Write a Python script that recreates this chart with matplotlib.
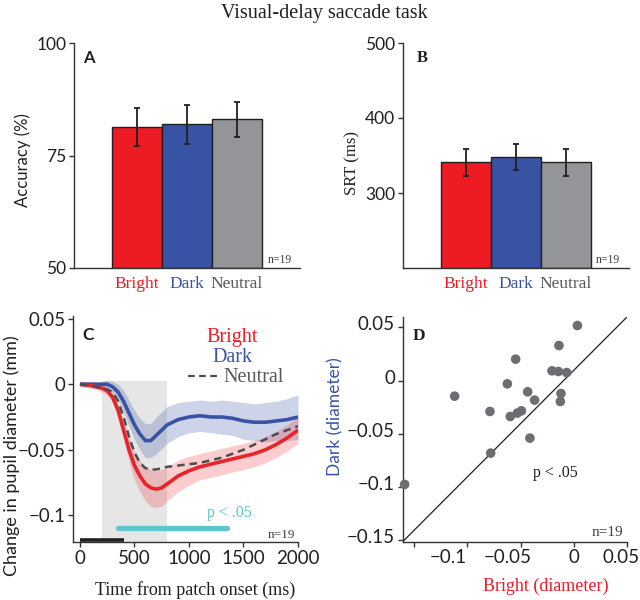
import matplotlib
matplotlib.use('Agg')
import matplotlib.pyplot as plt
from matplotlib.transforms import ScaledTranslation

# ---------------- data ----------------
conditions = ['Bright', 'Dark', 'Neutral']
accuracy = [81.3, 81.9, 83.1]
accuracy_err = [4.2, 4.4, 3.9]
srt = [341, 348, 341]
srt_err = [18, 17.5, 18]

time_ms = [0, 100, 200, 250, 300, 350, 400, 450, 500, 550, 600, 650, 700, 750,
           800, 900, 1000, 1100, 1200, 1300, 1400, 1500, 1600, 1700, 1800, 1900, 2000]
bright_mean = [0, -0.001, -0.003, -0.005, -0.010, -0.020, -0.035, -0.050, -0.062,
               -0.070, -0.076, -0.079, -0.080, -0.079, -0.076, -0.070, -0.066, -0.063,
               -0.061, -0.059, -0.057, -0.055, -0.053, -0.050, -0.046, -0.041, -0.035]
bright_sem = [0.002, 0.002, 0.003, 0.003, 0.004, 0.005, 0.007, 0.009, 0.011, 0.012,
              0.013, 0.014, 0.014, 0.014, 0.013, 0.012, 0.011, 0.010, 0.010, 0.010,
              0.010, 0.010, 0.010, 0.010, 0.010, 0.010, 0.010]
dark_mean = [0, 0, 0, 0, -0.002, -0.006, -0.013, -0.022, -0.031, -0.038, -0.043,
             -0.043, -0.039, -0.035, -0.031, -0.027, -0.025, -0.024, -0.025, -0.025,
             -0.026, -0.028, -0.029, -0.029, -0.028, -0.027, -0.025]
dark_sem = [0.002, 0.002, 0.002, 0.003, 0.004, 0.006, 0.008, 0.010, 0.011, 0.012,
            0.013, 0.013, 0.014, 0.014, 0.014, 0.013, 0.012, 0.012, 0.012, 0.013,
            0.013, 0.014, 0.014, 0.015, 0.015, 0.016, 0.017]
neutral_mean = [0, -0.001, -0.003, -0.004, -0.006, -0.013, -0.025, -0.040, -0.052,
                -0.060, -0.064, -0.065, -0.065, -0.064, -0.063, -0.062, -0.061, -0.060,
                -0.058, -0.056, -0.053, -0.050, -0.046, -0.042, -0.038, -0.035, -0.032]
patch_window = [200, 800]
patch_top = 0.0025
signif_window = [345, 1345]
signif_level = -0.110
stim_window = [0, 400]
stim_level = -0.1184

bright_diam = [0.0032, -0.0141, -0.0547, -0.0206, -0.0146, -0.0068, -0.0625, -0.1119,
               -0.0434, -0.0369, -0.0122, -0.0128, -0.0788, -0.0597, -0.0531, -0.0493,
               -0.0413, -0.0781, -0.1588]
dark_diam = [0.0517, 0.0329, 0.0201, 0.0091, 0.0085, 0.0075, -0.0031, -0.0147,
             -0.0106, -0.0184, -0.0122, -0.0197, -0.0291, -0.0338, -0.0306, -0.0285,
             -0.0541, -0.0682, -0.0977]

acc_ticks = [50, 75, 100]
srt_ticks = [300, 400, 500]
c_xticks = [0, 500, 1000, 1500, 2000]
c_yticks = [-0.1, -0.05, 0, 0.05]
c_yticklabels = ['\u22120.1', '\u22120.05', '0', '0.05']
d_xticks = [-0.15, -0.1, -0.05, 0, 0.05]
d_xticklabels = ['', '\u22120.1', '\u22120.05', '0', '0.05']
d_yticks = [-0.15, -0.1, -0.05, 0, 0.05]
d_yticklabels = ['\u22120.15', '\u22120.1', '\u22120.05', '0', '0.05']

# ---------------- style ----------------
RED = '#ED1C24'
BLUE = '#3953A4'
GRAY_BAR = '#939598'
GRAY_TXT = '#58595B'
DARKTXT = '#231F20'
CYAN = '#5BC6D0'
SANS = ['Lato', 'DejaVu Sans']
SERIF = ['Liberation Serif', 'DejaVu Serif']
bar_colors = [RED, BLUE, GRAY_BAR]
label_colors = [RED, BLUE, GRAY_TXT]

fig = plt.figure(figsize=(6.4, 6.0), dpi=100)

def style_axes(ax, tick_size):
    for s in ['top', 'right']:
        ax.spines[s].set_visible(False)
    for s in ['left', 'bottom']:
        ax.spines[s].set_color('#333333')
        ax.spines[s].set_linewidth(1.0)
    ax.tick_params(direction='out', length=3.5, width=1.0, color='#333333',
                   labelsize=tick_size, labelcolor=DARKTXT, pad=2)
    for lab in ax.get_xticklabels() + ax.get_yticklabels():
        lab.set_family(SANS)

# ---------- Panel A ----------
axA = fig.add_axes([74/640, 1-268/600, 226/640, 225/600])
xpos = [1, 2, 3]
axA.bar(xpos, [a - 50 for a in accuracy], bottom=50, width=1.0, color=bar_colors,
        edgecolor='#231F20', linewidth=1.0, zorder=2)
axA.errorbar(xpos, accuracy, yerr=accuracy_err, fmt='none', ecolor='#231F20',
             elinewidth=1.3, capsize=2.5, capthick=1.3, zorder=3)
axA.set_xlim(-0.26, 4.26)
axA.set_ylim(50, 100)
axA.set_yticks(acc_ticks)
axA.set_xticks(xpos)
axA.set_xticklabels(conditions)
style_axes(axA, 12.5)
axA.tick_params(axis='x', length=0, pad=6)
for lab, c in zip(axA.get_xticklabels(), label_colors):
    lab.set_color(c); lab.set_family(SERIF); lab.set_fontsize(12.5)
axA.set_ylabel('Accuracy (%)', fontsize=12, family=SANS, color=DARKTXT, va='center')
axA.yaxis.set_label_coords(-0.226, 0.48)
axA.text(0.04, 0.935, 'A', transform=axA.transAxes, fontsize=12, fontweight='bold',
         family=SANS, color=DARKTXT, va='center', ha='left')
axA.text(0.965, 0.036, 'n=19', transform=axA.transAxes, fontsize=8.5, family=SERIF,
         color='#414042', va='center', ha='right')

# ---------- Panel B ----------
axB = fig.add_axes([403/640, 1-268/600, 226/640, 225/600])
axB.bar(xpos, [s - 200 for s in srt], bottom=200, width=1.0, color=bar_colors,
        edgecolor='#231F20', linewidth=1.0, zorder=2)
axB.errorbar(xpos, srt, yerr=srt_err, fmt='none', ecolor='#231F20',
             elinewidth=1.3, capsize=2.5, capthick=1.3, zorder=3)
axB.set_xlim(-0.26, 4.26)
axB.set_ylim(200, 500)
axB.set_yticks(srt_ticks)
axB.set_xticks(xpos)
axB.set_xticklabels(conditions)
style_axes(axB, 12.5)
axB.tick_params(axis='x', length=0, pad=6)
for lab, c in zip(axB.get_xticklabels(), label_colors):
    lab.set_color(c); lab.set_family(SERIF); lab.set_fontsize(12.5)
axB.set_ylabel('SRT (ms)', fontsize=12, family=SERIF, color=DARKTXT, va='center')
axB.yaxis.set_label_coords(-0.226, 0.467)
axB.text(0.062, 0.935, 'B', transform=axB.transAxes, fontsize=12, fontweight='bold',
         family=SERIF, color=DARKTXT, va='center', ha='left')
axB.text(0.96, 0.036, 'n=19', transform=axB.transAxes, fontsize=8.5, family=SERIF,
         color='#414042', va='center', ha='right')

# ---------- Panel C ----------
axC = fig.add_axes([73.3/640, 1-542/600, 224.7/640, 226/600])
axC.fill_between(patch_window, [-1, -1], [patch_top, patch_top], color='#E6E6E6',
                 linewidth=0, zorder=0)
lo_b = [m - e for m, e in zip(bright_mean, bright_sem)]
hi_b = [m + e for m, e in zip(bright_mean, bright_sem)]
lo_d = [m - e for m, e in zip(dark_mean, dark_sem)]
hi_d = [m + e for m, e in zip(dark_mean, dark_sem)]
axC.fill_between(time_ms, lo_d, hi_d, color=BLUE, alpha=0.25, linewidth=0, zorder=1)
axC.fill_between(time_ms, lo_b, hi_b, color=RED, alpha=0.22, linewidth=0, zorder=1)
axC.plot(time_ms, dark_mean, color=BLUE, lw=2.6, zorder=3, solid_capstyle='butt')
axC.plot(time_ms, bright_mean, color='#E8242B', lw=2.6, zorder=3, solid_capstyle='butt')
axC.plot(time_ms, neutral_mean, color='#4D4D4F', lw=1.8, ls=(0, (3, 2)), zorder=4)
axC.plot(signif_window, [signif_level, signif_level], color=CYAN, lw=3.8,
         solid_capstyle='round', zorder=3)
axC.plot(stim_window, [stim_level, stim_level], color='#231F20', lw=2.6,
         solid_capstyle='butt', zorder=3, clip_on=False)
axC.set_xlim(-61, 2000)
axC.set_ylim(-0.1203, 0.052)
axC.set_xticks(c_xticks)
axC.set_yticks(c_yticks)
axC.set_yticklabels(c_yticklabels)
style_axes(axC, 13.5)
axC.set_ylabel('Change in pupil diameter (mm)', fontsize=13, family=SANS,
               color=DARKTXT, va='center')
axC.yaxis.set_label_coords(-0.273, 0.38)
axC.set_xlabel('Time from patch onset (ms)', fontsize=13, family=SERIF,
               color=DARKTXT, va='center')
axC.xaxis.set_label_coords(0.542, -0.212)
axC.text(0.04, 0.915, 'C', transform=axC.transAxes, fontsize=12.5, fontweight='bold',
         family=SANS, color=DARKTXT, va='center', ha='left')
axC.text(0.706, 0.907, 'Bright', transform=axC.transAxes, fontsize=14.5, family=SERIF,
         color=RED, va='center', ha='center')
axC.text(0.708, 0.818, 'Dark', transform=axC.transAxes, fontsize=14.5, family=SERIF,
         color=BLUE, va='center', ha='center')
axC.text(0.666, 0.729, 'Neutral', transform=axC.transAxes, fontsize=14.5, family=SERIF,
         color=GRAY_TXT, va='center', ha='left')
axC.plot([0.51, 0.645], [0.733, 0.733], transform=axC.transAxes, color='#4D4D4F',
         lw=1.6, ls=(0, (3, 2)))
axC.text(0.696, 0.129, 'p < .05', transform=axC.transAxes, fontsize=11.5, family=SERIF,
         color=CYAN, va='center', ha='center')
axC.text(0.986, 0.03, 'n=19', transform=axC.transAxes, fontsize=9.5, family=SERIF,
         color='#414042', va='center', ha='right')

# ---------- Panel D ----------
axD = fig.add_axes([402.7/640, 1-541.7/600, 224.6/640, 225/600])
axD.plot([0, 1], [0, 1], transform=axD.transAxes, color='#231F20', lw=0.9, zorder=1)
axD.scatter(bright_diam, dark_diam, s=48, color='#6D6E71', edgecolors='none',
            zorder=3, clip_on=False)
axD.set_xlim(-0.1606, 0.05)
axD.set_ylim(-0.1515, 0.060)
axD.set_xticks(d_xticks)
axD.set_xticklabels(d_xticklabels)
axD.set_yticks(d_yticks)
axD.set_yticklabels(d_yticklabels)
style_axes(axD, 13.5)
for lab, dx in zip(axD.get_xticklabels(), [0, -19, -13, 0, -6]):
    lab.set_transform(lab.get_transform() + ScaledTranslation(dx/100, 0, fig.dpi_scale_trans))
for lab in axD.get_yticklabels():
    lab.set_transform(lab.get_transform() + ScaledTranslation(0, 4/100, fig.dpi_scale_trans))
axD.set_ylabel('Dark (diameter)', fontsize=12.5, family=SANS, color=BLUE, va='center')
axD.yaxis.set_label_coords(-0.301, 0.554)
axD.set_xlabel('Bright (diameter)', fontsize=13, family=SERIF, color=RED, va='center')
axD.xaxis.set_label_coords(0.638, -0.197)
axD.text(0.046, 0.914, 'D', transform=axD.transAxes, fontsize=12.5, fontweight='bold',
         family=SERIF, color=DARKTXT, va='center', ha='left')
axD.text(0.678, 0.307, 'p < .05', transform=axD.transAxes, fontsize=11.5, family=SERIF,
         color=DARKTXT, va='center', ha='center')
axD.text(0.98, 0.043, 'n=19', transform=axD.transAxes, fontsize=11, family=SERIF,
         color='#414042', va='center', ha='right')

fig.text(0.506, 0.978, 'Visual-delay saccade task', fontsize=14.5, family=SERIF,
         color=DARKTXT, ha='center', va='center')

fig.savefig('out.png', dpi=100)
